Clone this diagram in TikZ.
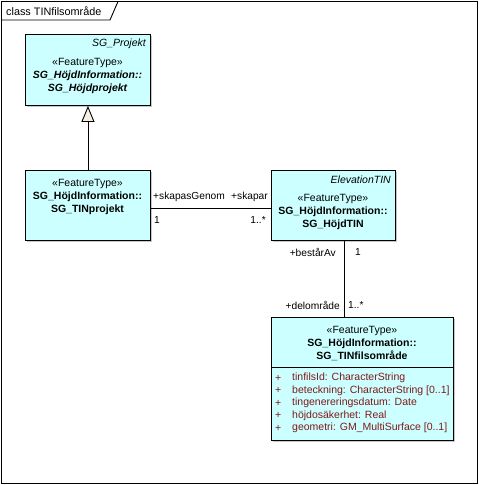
\documentclass[tikz,border=0pt]{standalone}
\usepackage{fontspec}
\setmainfont{Liberation Sans}
\usetikzlibrary{arrows.meta,shadows,calc}
\definecolor{clsfill}{RGB}{204,255,255}
\definecolor{attrcol}{RGB}{130,25,25}
\definecolor{tribeige}{RGB}{245,240,230}
\tikzset{
  cls/.style={draw=black, fill=clsfill, anchor=north west, inner sep=0pt, line width=0.9pt,
    drop shadow={shadow xshift=2pt, shadow yshift=-2pt, fill=black!22, opacity=1}},
  txt/.style={inner sep=0pt, font=\fontsize{10.5}{12.5}\selectfont},
  lbl/.style={inner sep=0pt, font=\fontsize{10.2}{12}\selectfont},
  attr/.style={txt, text=attrcol, anchor=west},
  conn/.style={draw=black, line width=0.9pt},
}
\begin{document}
\begin{tikzpicture}[x=1pt,y=-1pt]
\useasboundingbox (0,0) rectangle (479,485);
\fill[white] (0,0) rectangle (479,485);
% frame
\draw[line width=0.9pt] (1.5,1.5) rectangle (477,483);
\draw[line width=0.9pt] (1.5,20) -- (110,20) -- (118,1.5);
\node[inner sep=0pt, font=\fontsize{10.85}{13}\selectfont, anchor=west] (title) at (6,11) {class TINfilsområde};

% boxes
\node[cls, minimum width=125pt, minimum height=71pt] (proj) at (25,34) {};
\node[cls, minimum width=125pt, minimum height=70pt] (tinp) at (25,170) {};
\node[cls, minimum width=124pt, minimum height=70pt] (hojd) at (271,170) {};
\node[cls, minimum width=182pt, minimum height=123pt] (fil) at (271,317) {};
\draw[line width=0.9pt] ([yshift=-50pt]fil.north west) -- ([yshift=-50pt]fil.north east);

% texts of proj
\node[txt, anchor=east] (projabs) at (146,44) {\itshape SG\_Projekt};
\node[txt] (projst) at (87.5,63) {«FeatureType»};
\node[txt] (projn1) at (87.5,76) {\bfseries\itshape SG\_HöjdInformation::};
\node[txt] (projn2) at (87.5,89) {\bfseries\itshape SG\_Höjdprojekt};

% texts of tinp
\node[txt] (tinpst) at (87.5,184) {«FeatureType»};
\node[txt] (tinpn1) at (87.5,197) {\bfseries SG\_HöjdInformation::};
\node[txt] (tinpn2) at (87.5,209.5) {\bfseries SG\_TINprojekt};

% texts of hojd
\node[txt, anchor=east] (hojdabs) at (391,180) {\itshape ElevationTIN};
\node[txt] (hojdst) at (333,199) {«FeatureType»};
\node[txt] (hojdn1) at (333,212) {\bfseries SG\_HöjdInformation::};
\node[txt] (hojdn2) at (333,225) {\bfseries SG\_HöjdTIN};

% texts of fil
\node[txt] (filst) at (362,331) {«FeatureType»};
\node[txt] (filn1) at (362,343.5) {\bfseries SG\_HöjdInformation::};
\node[txt] (filn2) at (362,356) {\bfseries SG\_TINfilsområde};
\foreach \i/\t in {0/{tinfilsId: CharacterString},1/{beteckning: CharacterString [0..1]},2/{tingenereringsdatum: Date},3/{höjdosäkerhet: Real},4/{geometri: GM\_MultiSurface [0..1]}}{
  \node[attr] (p\i) at (275,378+12.5*\i) {+};
  \node[attr] (a\i) at (292,378+12.5*\i) {\t};
}

% generalization
\draw[conn, -{Triangle[width=13pt,length=16pt,fill=tribeige,line width=0.9pt]}] (tinp.north) -- (proj.south);

% association skapasGenom/skapar
\draw[conn] ([yshift=-3pt]tinp.east) -- ([yshift=-3pt]hojd.west);
\node[lbl, anchor=west] (l1) at (153,197) {+skapasGenom};
\node[lbl, anchor=east] (l2) at (268,197) {+skapar};
\node[lbl, anchor=west] (l3) at (154,220) {1};
\node[lbl, anchor=east] (l4) at (266,220) {1..*};

% association bestårAv/delområde
\coordinate (vtop) at ([xshift=11pt]hojd.south);
\draw[conn] (vtop) -- (vtop |- fil.north);
\node[lbl, anchor=east] (l5) at (336,252) {+bestårAv};
\node[lbl, anchor=west] (l6) at (355,252) {1};
\node[lbl, anchor=east] (l7) at (340,305) {+delområde};
\node[lbl, anchor=west] (l8) at (348,305) {1..*};
\end{tikzpicture}
\end{document}
